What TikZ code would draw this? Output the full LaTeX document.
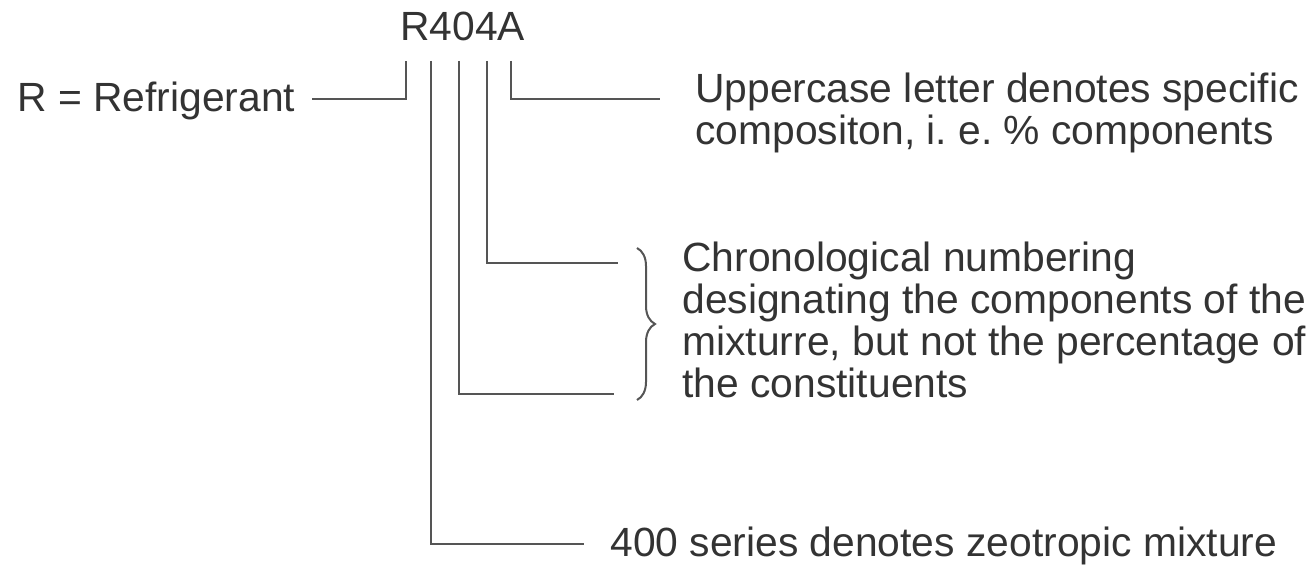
\documentclass[tikz,border=0pt]{standalone}
\usepackage{fontspec}
\setmainfont{Liberation Sans}
\usetikzlibrary{decorations.pathreplacing}
\definecolor{inkgray}{HTML}{333333}
\definecolor{leadgray}{HTML}{555555}
\frenchspacing

\begin{document}
\begin{tikzpicture}[
  x=0.5pt, y=-0.5pt,
  lead/.style={leadgray, line width=1pt},
  lbl/.style={inkgray, inner sep=0pt, anchor=base west, align=left,
    font=\fontsize{20.4pt}{21pt}\selectfont},
  brc/.style={leadgray, line width=1pt,
    decorate, decoration={brace, amplitude=9pt}},
]
\useasboundingbox (0,0) rectangle (1313,565);

% ══════════════════════════════════════════════════════
% Designation and its labels
% ══════════════════════════════════════════════════════
% (base of a multi-line label = base of its last line)
\node[lbl] (code) at (400,40.7) {R404A};
\node[lbl] (refr) at (17,112) {R = Refrigerant};
\node[lbl] (spec) at (695,145)
  {Uppercase letter denotes specific\\compositon, i. e. \% components};
\node[lbl] (chron) at (682,398)
  {Chronological numbering\\designating the components of the\\%
   mixturre, but not the percentage of\\the constituents};
\node[lbl] (zeo) at (610,557) {400 series denotes zeotropic mixture};

% ══════════════════════════════════════════════════════
% Leads (one per character)
% ══════════════════════════════════════════════════════
% tops, just under the characters
\coordinate (tR) at (405.7,61);
\coordinate (tH) at (430.7,61);
\coordinate (tZ) at (459,61);
\coordinate (tF) at (487.3,61);
\coordinate (tA) at (510.7,61);
% free ends, short of the texts
\coordinate (eR) at (312,99);
\coordinate (eA) at (660,99);
\coordinate (eF) at (618,263);
\coordinate (eZ) at (614,394);
\coordinate (eH) at (584,544);

\draw[lead] (eR) -| (tR);
\draw[lead] (tA) |- (eA);
\draw[lead] (tF) |- (eF);
\draw[lead] (tZ) |- (eZ);
\draw[lead] (tH) |- (eH);

% brace in front of the chronological note
\coordinate (bTop) at (637,248);
\coordinate (bBot) at (637,400);
\draw[brc] (bTop) -- (bBot);

\end{tikzpicture}
\end{document}
